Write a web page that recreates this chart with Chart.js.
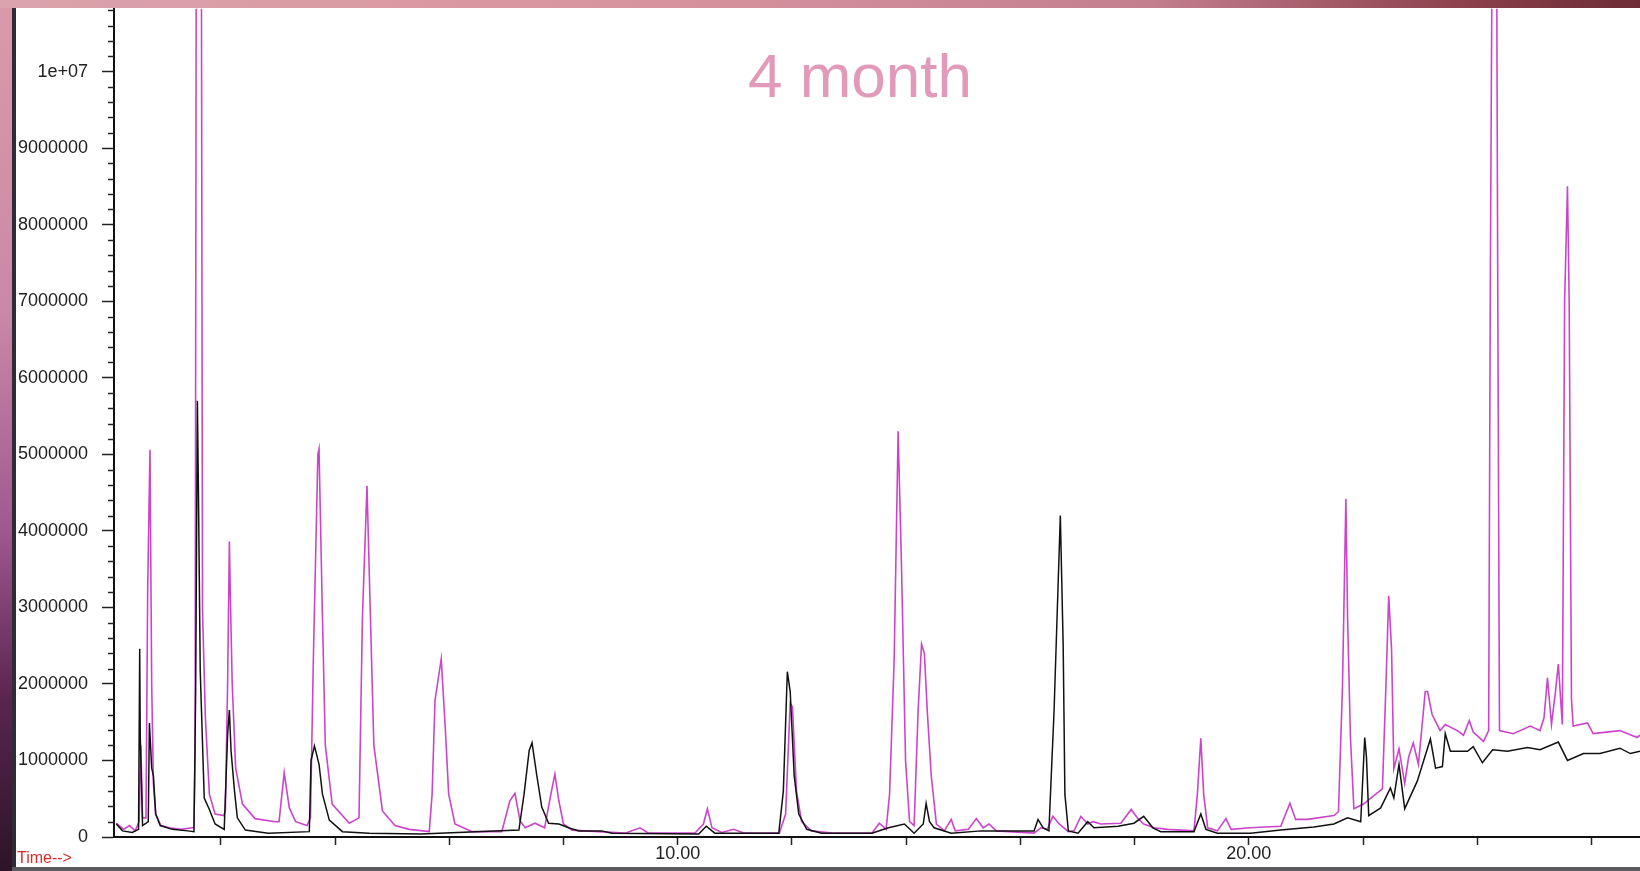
<!DOCTYPE html>
<html>
<head>
<meta charset="utf-8">
<script src="https://cdn.jsdelivr.net/npm/chart.js@4.4.1/dist/chart.umd.min.js"></script>
<style>
  html, body { margin: 0; padding: 0; }
  body { width: 1640px; height: 871px; overflow: hidden; position: relative; background: #fff; font-family: "Liberation Sans", Arial, sans-serif; }
  #topband { position: absolute; left: 0; top: 0; width: 1640px; height: 8px; z-index: 2;
    background: linear-gradient(to right, #dba3ab 0%, #d7949e 40%, #c47f8e 70%, #8a3f4a 90%, #6b2d36 100%); }
  #leftband { position: absolute; left: 0; top: 8px; width: 12px; height: 863px; z-index: 2;
    background: linear-gradient(to bottom, #d99aa8 0%, #c989a8 35%, #a05a90 60%, #5a2550 80%, #2c1428 100%); }
  #frame { position: absolute; left: 12px; top: 8px; width: 4px; height: 863px; background: #2e2c36; z-index: 2; }
  #bottomline { position: absolute; left: 12px; top: 867px; width: 1628px; height: 4px; background: #5a5a60; z-index: 2; }
  #wrap { position: absolute; left: 16px; top: -16px; width: 1624px; height: 885px; z-index: 1; }
  #title { position: absolute; left: 700px; width: 320px; top: 40px; text-align: center; z-index: 3;
    font-size: 62px; color: #e19bb8; line-height: 72px; }
  #timeLabel { position: absolute; left: 17px; top: 848px; font-size: 16px; color: #e02a2a; line-height: 20px; z-index: 3; }
</style>
</head>
<body>
<div id="topband"></div>
<div id="leftband"></div>
<div id="frame"></div>
<div id="wrap"><canvas id="myChart"></canvas></div>
<div id="bottomline"></div>
<div id="title">4 month</div>
<div id="timeLabel">Time--&gt;</div>
<script>
// retention time (min) and abundance
var magentaTime = [0.17, 0.30, 0.40, 0.50, 0.57, 0.60, 0.63, 0.69, 0.72, 0.76, 0.79, 0.82, 0.86, 0.95, 1.10, 1.30, 1.50,
    1.53, 1.55, 1.57, 1.66, 1.68, 1.73, 1.80, 1.90, 2.05, 2.08, 2.12, 2.15, 2.17, 2.20, 2.26, 2.38, 2.60, 2.95,
    3.02, 3.11, 3.20, 3.31, 3.51, 3.57, 3.62, 3.70, 3.72, 3.78, 3.83, 3.95, 4.25, 4.42, 4.48, 4.56, 4.62, 4.68, 4.83, 5.05,
    5.30, 5.65, 5.70, 5.75, 5.86, 5.93, 5.99, 6.10, 6.40, 6.92, 7.06, 7.15, 7.24, 7.33, 7.50, 7.67, 7.78, 7.85, 7.92, 8.00,
    8.15, 9.08, 9.34, 9.49, 10.30, 10.45, 10.52, 10.60, 10.77, 10.98, 11.17, 11.78, 11.89, 11.97, 12.01, 12.08, 12.17,
    12.34, 12.75, 13.40, 13.53, 13.65, 13.71, 13.79, 13.86, 13.92, 13.99, 14.06, 14.14, 14.21, 14.27, 14.32, 14.37,
    14.44, 14.53, 14.67, 14.79, 14.86, 15.09, 15.23, 15.35, 15.45, 15.58, 16.24, 16.36, 16.47, 16.57, 16.68, 16.84,
    16.94, 17.06, 17.18, 17.27, 17.41, 17.76, 17.94, 18.06, 18.16, 18.34, 18.58, 19.04, 19.10, 19.16, 19.21, 19.28,
    19.45, 19.60, 19.69, 20.03, 20.56, 20.72, 20.82, 21.03, 21.49, 21.57, 21.64, 21.70, 21.73, 21.78, 21.84, 22.01,
    22.19, 22.34, 22.40, 22.45, 22.50, 22.54, 22.63, 22.73, 22.80, 22.88, 22.97, 23.09, 23.13, 23.21, 23.35, 23.44,
    23.65, 23.76, 23.86, 23.93, 24.11, 24.20, 24.23, 24.26, 24.34, 24.36, 24.39, 24.63, 24.93, 25.10, 25.17, 25.23,
    25.30, 25.37, 25.42, 25.49, 25.53, 25.58, 25.61, 25.65, 25.68, 25.93, 26.03, 26.50, 26.80, 26.85];
var magentaAbund = [180000, 100000, 150000, 80000, 200000, 1200000, 250000, 250000, 3250000, 5060000, 2000000, 700000, 300000, 150000, 120000, 100000, 120000,
    120000, 1100000, 11600000, 11600000, 2950000, 1560000, 560000, 300000, 280000, 340000, 2040000, 3860000, 3050000, 2000000, 900000, 430000, 240000, 200000,
    200000, 840000, 380000, 200000, 150000, 250000, 2300000, 5000000, 5070000, 2870000, 1200000, 430000, 180000, 250000, 2870000, 4590000, 2870000, 1200000, 340000, 150000,
    100000, 70000, 560000, 1780000, 2330000, 1430000, 560000, 170000, 70000, 70000, 470000, 570000, 210000, 120000, 180000, 120000, 560000, 820000, 470000, 170000,
    90000, 50000, 120000, 50000, 50000, 170000, 370000, 120000, 60000, 100000, 50000, 50000, 300000, 1750000, 1700000, 600000, 200000,
    80000, 50000, 50000, 180000, 100000, 560000, 2300000, 5300000, 3500000, 1000000, 200000, 150000, 1650000, 2520000, 2400000, 1650000,
    800000, 170000, 80000, 230000, 80000, 100000, 240000, 120000, 170000, 80000, 50000, 120000, 100000, 270000, 170000, 70000,
    80000, 270000, 170000, 200000, 170000, 180000, 360000, 240000, 170000, 120000, 100000, 80000, 560000, 1290000, 560000, 120000,
    80000, 240000, 100000, 120000, 140000, 440000, 230000, 230000, 280000, 330000, 1950000, 4420000, 2860000, 1300000, 370000, 430000,
    540000, 630000, 1950000, 3150000, 2450000, 890000, 1150000, 700000, 1050000, 1230000, 950000, 1900000, 1900000, 1600000, 1390000, 1470000,
    1390000, 1330000, 1520000, 1370000, 1250000, 1390000, 7400000, 11600000, 11600000, 7000000, 1390000, 1350000, 1450000, 1390000, 1560000, 2080000,
    1470000, 1900000, 2260000, 1470000, 7000000, 8500000, 7000000, 1800000, 1450000, 1490000, 1350000, 1390000, 1300000, 1330000];

var blackTime = [0.17, 0.28, 0.45, 0.56, 0.58, 0.59, 0.63, 0.73, 0.75, 0.79, 0.82, 0.86, 0.94, 1.15, 1.42, 1.53, 1.56, 1.59,
    1.61, 1.64, 1.71, 1.80, 1.90, 2.06, 2.12, 2.15, 2.18, 2.24, 2.29, 2.43, 2.83, 3.55, 3.58, 3.64, 3.72, 3.78, 3.90, 4.13,
    4.60, 5.50, 7.22, 7.31, 7.40, 7.45, 7.53, 7.62, 7.74, 7.92, 8.09, 8.27, 8.67, 8.85, 10.37, 10.50, 10.65, 11.77, 11.85,
    11.92, 11.97, 12.04, 12.12, 12.26, 12.52, 13.40, 13.69, 13.97, 14.14, 14.30, 14.35, 14.41, 14.49, 14.79, 15.31, 16.24,
    16.31, 16.40, 16.50, 16.59, 16.70, 16.75, 16.78, 16.84, 17.01, 17.18, 17.29, 17.71, 17.99, 18.16, 18.32, 18.46, 19.04,
    19.16, 19.25, 19.45, 20.03, 20.56, 21.14, 21.49, 21.73, 21.96, 22.03, 22.06, 22.10, 22.31, 22.48, 22.54, 22.63, 22.73,
    22.95, 23.18, 23.27, 23.39, 23.44, 23.53, 23.83, 23.93, 24.09, 24.27, 24.53, 24.88, 25.10, 25.42, 25.58, 25.86, 26.15,
    26.50, 26.68, 26.85];
var blackAbund = [170000, 80000, 60000, 100000, 2460000, 1300000, 150000, 200000, 1490000, 900000, 800000, 300000, 150000, 100000, 80000, 70000, 1900000, 5700000,
    4400000, 2170000, 510000, 360000, 170000, 100000, 1350000, 1660000, 1120000, 600000, 250000, 90000, 50000, 70000, 1000000, 1190000, 950000, 560000, 220000, 70000,
    50000, 40000, 90000, 560000, 1130000, 1230000, 820000, 390000, 180000, 170000, 120000, 80000, 80000, 50000, 40000, 140000, 50000, 50000, 600000,
    2160000, 1900000, 800000, 300000, 100000, 50000, 50000, 120000, 170000, 50000, 170000, 440000, 200000, 120000, 50000, 80000, 80000,
    230000, 120000, 80000, 1640000, 4200000, 2500000, 560000, 80000, 50000, 200000, 120000, 140000, 180000, 270000, 120000, 70000, 70000,
    300000, 100000, 50000, 50000, 90000, 130000, 170000, 250000, 200000, 1300000, 1050000, 280000, 380000, 640000, 510000, 950000, 370000,
    730000, 1280000, 900000, 920000, 1350000, 1120000, 1120000, 1180000, 970000, 1140000, 1120000, 1170000, 1140000, 1240000, 1000000, 1090000, 1090000,
    1160000, 1090000, 1120000];

var yTickValues = [0, 1000000, 2000000, 3000000, 4000000, 5000000, 6000000, 7000000, 8000000, 9000000, 10000000];
var xTickValues = [2, 4, 6, 8, 10, 12, 14, 16, 18, 20, 22, 24, 26];
var xLabels = { 10: '10.00', 20: '20.00' };

function toPoints(xs, ys) {
    var pts = [];
    for (var i = 0; i < xs.length; i++) pts.push({ x: xs[i], y: ys[i] });
    return pts;
}

// short ticks every 200000 between the labelled ones
var minorTicks = {
    id: 'minorTicks',
    afterDraw: function (chart) {
        var y = chart.scales.y, ctx = chart.ctx, left = chart.chartArea.left;
        ctx.save();
        ctx.strokeStyle = '#222';
        ctx.lineWidth = 1.5;
        for (var v = 200000; v <= y.max; v += 200000) {
            if (v % 1000000 === 0) continue;
            var py = Math.round(y.getPixelForValue(v)) + 0.5;
            ctx.beginPath();
            ctx.moveTo(left - 6, py);
            ctx.lineTo(left, py);
            ctx.stroke();
        }
        ctx.restore();
    }
};

var config = {
    type: 'line',
    data: {
        datasets: [{
            label: 'black',
            data: toPoints(blackTime, blackAbund),
            borderColor: '#111',
            borderWidth: 1.5,
            pointRadius: 0,
            tension: 0
        }, {
            label: 'magenta',
            data: toPoints(magentaTime, magentaAbund),
            borderColor: '#cc44cc',
            borderWidth: 1.6,
            pointRadius: 0,
            tension: 0
        }]
    },
    options: {
        animation: false,
        responsive: true,
        maintainAspectRatio: false,
        devicePixelRatio: 1,
        events: [],
        layout: { padding: { top: 0, right: 0, bottom: 6, left: 0 } },
        plugins: {
            legend: { display: false },
            tooltip: { enabled: false }
        },
        scales: {
            x: {
                type: 'linear',
                min: 0.13,
                max: 26.85,
                border: { color: '#111', width: 2 },
                grid: { drawOnChartArea: false, tickLength: 8, tickColor: '#222', tickWidth: 1.5 },
                afterBuildTicks: function (scale) {
                    scale.ticks = xTickValues.map(function (v) { return { value: v }; });
                },
                ticks: {
                    autoSkip: false,
                    maxRotation: 0,
                    padding: 0,
                    color: '#222',
                    font: { family: '"Liberation Sans", Arial, sans-serif', size: 18, lineHeight: 1 },
                    callback: function (value) { return xLabels[value] || ''; }
                }
            },
            y: {
                min: 0,
                max: 10820000,
                border: { color: '#111', width: 2 },
                grid: { drawOnChartArea: false, tickLength: 12, tickColor: '#222', tickWidth: 1.5 },
                afterFit: function (scale) { scale.width = 98; },
                afterBuildTicks: function (scale) {
                    scale.ticks = yTickValues.map(function (v) { return { value: v }; });
                },
                ticks: {
                    autoSkip: false,
                    padding: 14,
                    color: '#222',
                    font: { family: '"Liberation Sans", Arial, sans-serif', size: 18 },
                    callback: function (value) { return value === 10000000 ? '1e+07' : String(value); }
                }
            }
        }
    },
    plugins: [minorTicks]
};

var myChart = new Chart(document.getElementById('myChart'), config);
</script>
</body>
</html>
